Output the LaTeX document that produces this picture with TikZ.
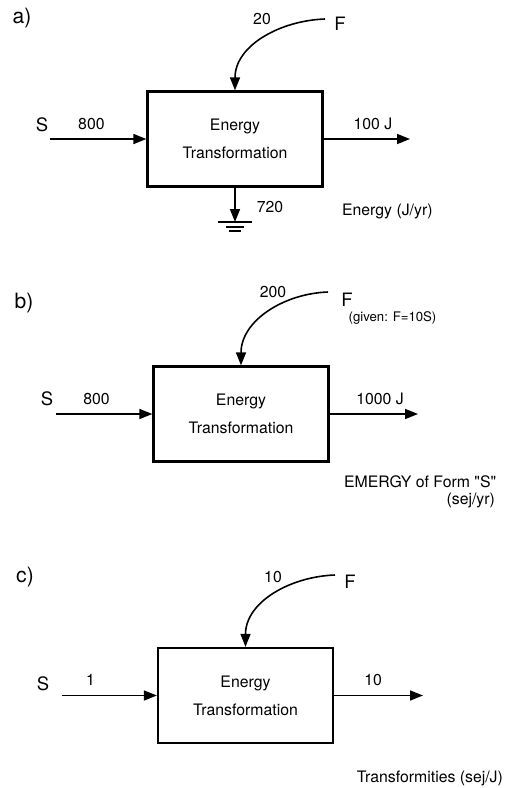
\documentclass[tikz,border=0pt]{standalone}
\usepackage{fontspec}
\setmainfont{TeX Gyre Heros}[Ligatures=TeXOff]
\usepackage{tikz}
\usetikzlibrary{positioning, calc, arrows.meta}

\begin{document}
\begin{tikzpicture}[
    transbox/.style={draw, line width=1.3pt, minimum width=3.5cm, minimum height=1.9cm,
                     align=center, font=\fontsize{9}{11}\selectfont},
    flow/.style={line width=0.9pt, -{Triangle[length=2.6mm,width=2.0mm]}},
    lbl/.style={font=\fontsize{9}{11}\selectfont, inner sep=1pt},
    src/.style={font=\fontsize{10.5}{12}\selectfont, inner sep=1pt},
    part/.style={font=\fontsize{12}{14}\selectfont, inner sep=1pt}]
  \useasboundingbox (0,0) rectangle (10.32,-15.76);

  % a) energy
  \node[part] (pa) at (0.44,-0.36) {a)};
  \node[transbox] (boxa) at (4.70,-2.78) {Energy\\[5pt]Transformation};
  \node[src] (sa) at (0.84,-2.50) {S};
  \coordinate (ina) at (1.00,-2.78);
  \draw[flow] (ina) -- (boxa.west) node[lbl, pos=0.43, above=4pt] {800};
  \coordinate (outa) at (8.20,-2.78);
  \draw[flow] (boxa.east) -- (outa) node[lbl, pos=0.57, above=4pt] {100 J};
  \node[src] (fa) at (6.80,-0.48) {F};
  \node[lbl] (qa) at (5.24,-0.38) {20};
  \coordinate (fca) at (6.50,-0.38);
  \draw[flow] (fca) to[out=182, in=90] (boxa.north);
  \coordinate (gnda) at (4.70,-4.44);
  \draw[flow] (boxa.south) -- (gnda);
  \draw[line width=0.9pt] ($(gnda)+(-0.34,0)$) -- ++(0.68,0)
                          ($(gnda)+(-0.18,-0.10)$) -- ++(0.36,0)
                          ($(gnda)+(-0.12,-0.18)$) -- ++(0.24,0);
  \node[lbl] (lossa) at (5.40,-4.14) {720};
  \node[lbl, anchor=west] (unita) at (6.80,-4.22) {Energy (J/yr)};

  % b) emergy
  \node[part] (pb) at (0.48,-6.06) {b)};
  \node[transbox] (boxb) at (4.82,-8.28) {Energy\\[5pt]Transformation};
  \node[src] (sb) at (0.94,-7.98) {S};
  \coordinate (inb) at (1.12,-8.28);
  \draw[flow] (inb) -- (boxb.west) node[lbl, pos=0.42, above=4pt] {800};
  \coordinate (outb) at (8.36,-8.28);
  \draw[flow] (boxb.east) -- (outb) node[lbl, pos=0.57, above=4pt] {1000 J};
  \node[src] (fb) at (6.94,-6.00) {F};
  \node[font=\fontsize{7.5}{9}\selectfont, inner sep=1pt] (gb) at (7.85,-6.36) {(given: F=10S)};
  \node[lbl] (qb) at (5.46,-5.84) {200};
  \coordinate (fcb) at (6.56,-5.84);
  \draw[flow] (fcb) to[out=182, in=90] (boxb.north);
  \node[lbl, anchor=west] (unitb) at (6.84,-9.64) {EMERGY of Form "S"};
  \node[lbl, anchor=east] (unitb2) at (9.94,-10.00) {(sej/yr)};

  % c) transformities
  \node[part] (pc) at (0.50,-11.54) {c)};
  \node[transbox] (boxc) at (4.91,-13.91) {Energy\\[5pt]Transformation};
  \node[src] (sc) at (0.86,-13.68) {S};
  \coordinate (inc) at (1.24,-13.91);
  \draw[flow] (inc) -- (boxc.west) node[lbl, pos=0.30, above=4pt] {1};
  \coordinate (outc) at (8.46,-13.91);
  \draw[flow] (boxc.east) -- (outc) node[lbl, pos=0.44, above=4pt] {10};
  \node[src] (fc) at (7.00,-11.64) {F};
  \node[lbl] (qc) at (5.46,-11.54) {10};
  \coordinate (fcc) at (6.70,-11.50);
  \draw[flow] (fcc) to[out=182, in=90] (boxc.north);
  \node[lbl, anchor=east] (unitc) at (10.10,-15.56) {Transformities (sej/J)};
\end{tikzpicture}
\end{document}
